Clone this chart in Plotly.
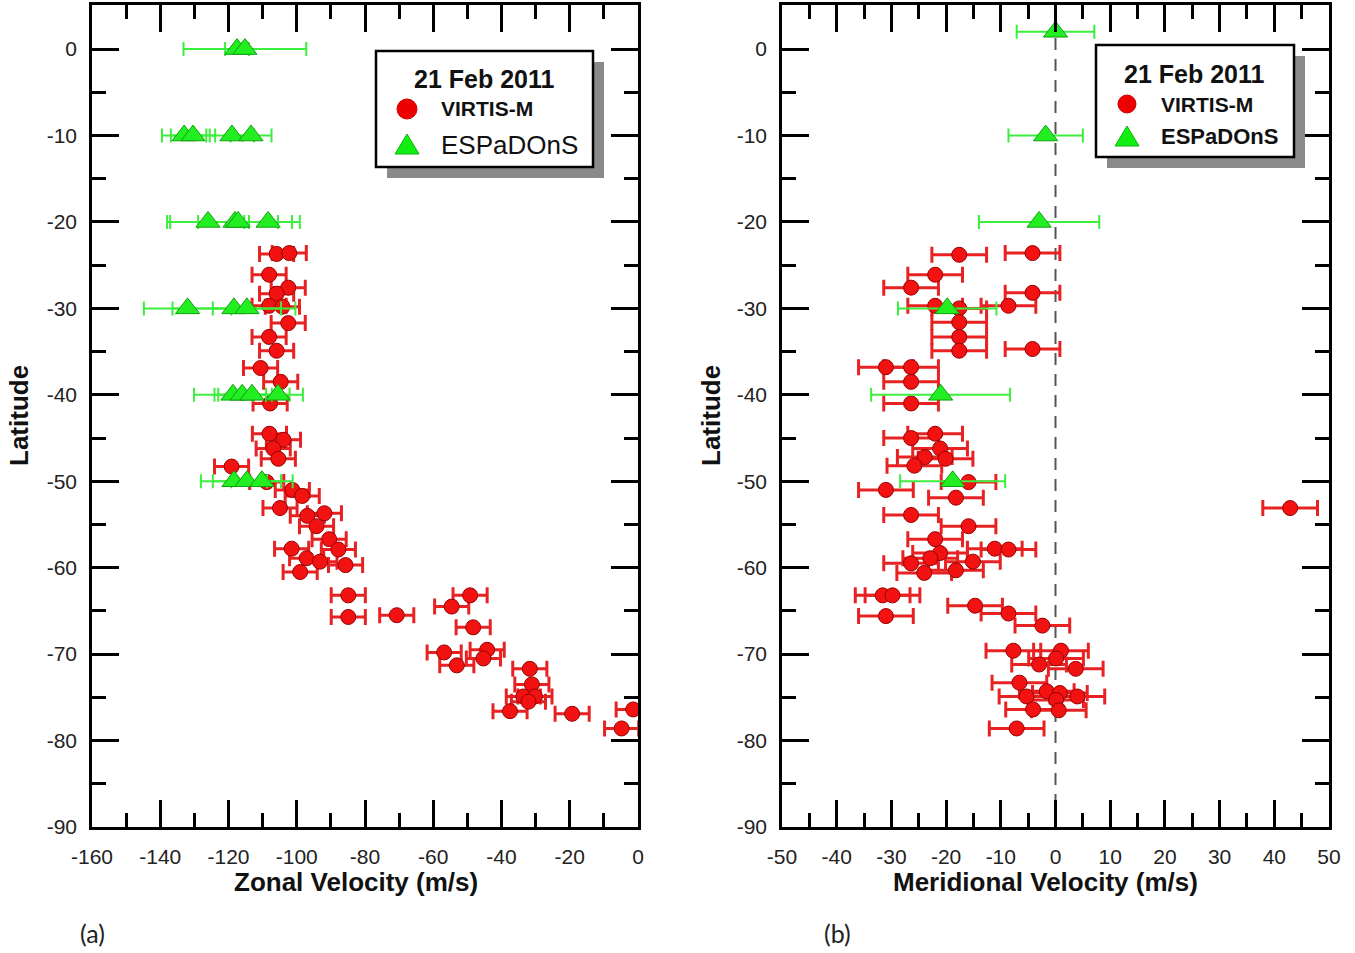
import plotly.graph_objects as go

W, H = 1355, 953


def px(x):
    return x / W


def py(y):
    return 1 - y / H


FONT = "Liberation Sans, Arial, sans-serif"

# ---------------- Panel (a): zonal velocity ----------------
virtis_lat_a = [-23.7, -23.6, -26.1, -27.6, -28.3, -29.7, -29.8, -31.7, -33.3, -34.9,
                -36.9, -38.5, -41.0, -44.5, -45.2, -46.2, -47.4, -48.3, -50.1, -51.0,
                -51.7, -53.1, -54.0, -53.7, -55.2, -56.7, -57.8, -57.9, -58.9, -59.3,
                -59.7, -60.5, -63.2, -65.7, -65.5, -63.2, -64.5, -66.9, -69.8, -69.5,
                -70.5, -71.3, -71.7, -73.5, -74.9, -74.9, -75.5, -76.6, -76.9, -76.4,
                -78.6]
virtis_zonal = [-105.9, -102.2, -108.1, -102.5, -105.9, -108.1, -104.2, -102.5, -108.1, -105.9,
                -110.6, -104.7, -107.8, -108.0, -103.9, -106.9, -105.4, -119.1, -108.8, -101.3,
                -98.4, -104.9, -96.9, -91.9, -94.2, -90.5, -101.5, -87.8, -97.1, -93.2,
                -85.7, -99.0, -84.9, -84.9, -70.7, -49.2, -54.6, -48.3, -56.8, -44.2,
                -45.3, -53.1, -31.7, -31.1, -33.6, -30.2, -32.1, -37.5, -19.3, -1.4,
                -4.8]
virtis_zonal_err = [5.0] * len(virtis_zonal)

espa_lat_a = [0, 0, -10, -10, -10, -10, -20, -20, -20, -20,
              -30, -30, -30, -40, -40, -40, -40, -50, -50, -50]
espa_zonal = [-117.5, -115.2, -133.0, -130.4, -119.0, -113.4, -126.0, -118.1, -117.2, -108.4,
              -132.0, -118.4, -114.6, -118.7, -116.0, -113.1, -105.5, -118.4, -114.6, -110.2]
espa_zonal_err = [3.5, 18.0, 6.5, 6.5, 6.5, 6.0, 12.0, 19.0, 11.7, 7.0,
                  12.8, 18.0, 10.0, 11.4, 7.0, 11.0, 7.3, 9.7, 10.0, 9.0]

# ---------------- Panel (b): meridional velocity ----------------
virtis_lat_b = [-23.8, -23.6, -26.1, -27.6, -28.2, -29.7, -30.0, -29.7, -31.6, -33.3,
                -34.9, -34.7, -36.8, -36.8, -38.5, -41.0, -45.0, -44.5, -46.2, -47.2,
                -47.4, -48.2, -51.0, -50.1, -51.9, -53.9, -55.2, -56.7, -57.8, -57.9,
                -58.3, -58.9, -59.5, -59.3, -60.6, -60.3, -63.2, -63.2, -65.6, -64.4,
                -65.3, -66.7, -69.6, -69.6, -70.5, -71.2, -71.7, -73.3, -74.9, -74.3,
                -74.5, -74.9, -75.3, -76.4, -76.5, -78.6, -53.1]
virtis_merid = [-17.6, -4.2, -22.0, -26.4, -4.2, -22.0, -17.6, -8.6, -17.6, -17.6,
                -17.6, -4.2, -31.0, -26.4, -26.4, -26.4, -26.4, -22.0, -21.1, -23.9,
                -20.1, -25.8, -31.0, -15.9, -18.2, -26.4, -15.9, -22.0, -11.1, -8.6,
                -21.1, -22.9, -26.4, -15.1, -24.0, -18.2, -31.6, -29.8, -31.0, -14.7,
                -8.6, -2.4, -7.7, 1.0, 0.1, -3.0, 3.7, -6.6, -5.3, -1.6,
                0.8, 4.0, 0.1, -4.1, 0.6, -7.1, 42.9]
virtis_merid_err = [5.0] * len(virtis_merid)

espa_lat_b = [2, -10, -20, -30, -40, -50]
espa_merid = [0.0, -1.8, -3.0, -19.8, -21.0, -18.8]
espa_merid_err = [7.1, 6.8, 11.0, 9.0, 12.7, 9.6]

# tick labels
zonal_ticks = list(range(-160, 1, 20))
merid_ticks = list(range(-50, 51, 10))
lat_ticks = list(range(-90, 1, 10))

RED = "#f21212"
RED_EDGE = "#990000"
RED_BAR = "#e82222"
GREEN = "#22ee22"
GREEN_EDGE = "#10a010"
GREEN_BAR = "#3cee3c"

fig = go.Figure()


def add_panel(xa, ya, vlat, vvel, verr, glat, gvel, gerr):
    fig.add_trace(go.Scatter(
        x=vvel, y=vlat, mode="markers", xaxis=xa, yaxis=ya, showlegend=False,
        cliponaxis=True,
        marker=dict(symbol="circle", size=15, color=RED, line=dict(color=RED_EDGE, width=1)),
        error_x=dict(type="data", array=verr, color=RED_BAR, thickness=3, width=8),
    ))
    fig.add_trace(go.Scatter(
        x=gvel, y=glat, mode="markers", xaxis=xa, yaxis=ya, showlegend=False,
        cliponaxis=True,
        marker=dict(symbol="triangle-up", size=21, color=GREEN, line=dict(color=GREEN_EDGE, width=1)),
        error_x=dict(type="data", array=gerr, color=GREEN_BAR, thickness=2, width=7),
    ))


add_panel("x", "y", virtis_lat_a, virtis_zonal, virtis_zonal_err, espa_lat_a, espa_zonal, espa_zonal_err)
add_panel("x2", "y2", virtis_lat_b, virtis_merid, virtis_merid_err, espa_lat_b, espa_merid, espa_merid_err)

common = dict(
    showline=True, linecolor="black", linewidth=2.5, mirror="ticks",
    ticks="inside", ticklen=27, tickwidth=2.5, tickcolor="black",
    showgrid=False, zeroline=False, automargin=False,
    tickfont=dict(family=FONT, size=21, color="#222"),
)
minor_y = dict(dtick=5, tick0=0, ticks="inside", ticklen=14, tickwidth=2.5, tickcolor="black")

ydom = [py(827), py(5)]
fig.update_layout(
    width=W, height=H, autosize=False,
    margin=dict(l=0, r=0, t=0, b=0, pad=0, autoexpand=False),
    paper_bgcolor="white", plot_bgcolor="white",
    showlegend=False,
    xaxis=dict(domain=[px(92), px(638)], range=[-160, 0], anchor="y",
               tickmode="array", tickvals=zonal_ticks, ticktext=[str(v) for v in zonal_ticks],
               minor=dict(dtick=10, tick0=0, ticks="inside", ticklen=14, tickwidth=2.5, tickcolor="black"),
               ticklabelstandoff=9, **common),
    yaxis=dict(domain=ydom, range=[-90, 5.1], anchor="x",
               tickmode="array", tickvals=lat_ticks, ticktext=[str(v) for v in lat_ticks],
               minor=minor_y, ticklabelstandoff=8, **common),
    xaxis2=dict(domain=[px(782), px(1329)], range=[-50, 50], anchor="y2",
                tickmode="array", tickvals=merid_ticks, ticktext=[str(v) for v in merid_ticks],
                minor=dict(dtick=5, tick0=0, ticks="inside", ticklen=14, tickwidth=2.5, tickcolor="black"),
                ticklabelstandoff=9, **common),
    yaxis2=dict(domain=ydom, range=[-90, 5.1], anchor="x2",
                tickmode="array", tickvals=lat_ticks, ticktext=[str(v) for v in lat_ticks],
                minor=minor_y, ticklabelstandoff=8, **common),
)

shapes = []
# dashed zero line in panel (b)
shapes.append(dict(type="line", xref="x2", yref="y2 domain", x0=0, x1=0, y0=0, y1=1,
                   line=dict(color="#555555", width=2, dash="12px,9px"), layer="below"))


def legend_box(x0, y0, x1, y1, title_cx, title_y, cx, y_circ, y_tri, text_x,
               circ_r, v_size, e_size, e_bold, title_size):
    shapes.append(dict(type="rect", xref="paper", yref="paper",
                       x0=px(x0 + 11), x1=px(x1 + 11), y0=py(y1 + 11), y1=py(y0 + 11),
                       fillcolor="#8a8a8a", line=dict(width=0), layer="above"))
    shapes.append(dict(type="rect", xref="paper", yref="paper",
                       x0=px(x0), x1=px(x1), y0=py(y1), y1=py(y0),
                       fillcolor="white", line=dict(color="black", width=2.5), layer="above"))
    shapes.append(dict(type="circle", xref="paper", yref="paper",
                       xsizemode="pixel", ysizemode="pixel",
                       xanchor=px(cx), yanchor=py(y_circ),
                       x0=-circ_r, x1=circ_r, y0=-circ_r, y1=circ_r,
                       fillcolor="#ee0000", line=dict(color="#cc0000", width=1), layer="above"))
    shapes.append(dict(type="path", xref="paper", yref="paper",
                       xsizemode="pixel", ysizemode="pixel",
                       xanchor=px(cx), yanchor=py(y_tri),
                       path="M-12,-9 L12,-9 L0,11 Z",
                       fillcolor="#11ee11", line=dict(color="#10b010", width=1), layer="above"))
    anns = [
        dict(text="<b>21 Feb 2011</b>", x=px(title_cx), y=py(title_y), xref="paper", yref="paper",
             xanchor="center", yanchor="middle", showarrow=False,
             font=dict(family=FONT, size=title_size, color="#111")),
        dict(text="<b>VIRTIS-M</b>", x=px(text_x), y=py(y_circ), xref="paper", yref="paper",
             xanchor="left", yanchor="middle", showarrow=False,
             font=dict(family=FONT, size=v_size, color="#111")),
        dict(text=("<b>ESPaDOnS</b>" if e_bold else "ESPaDOnS"), x=px(text_x), y=py(y_tri),
             xref="paper", yref="paper", xanchor="left", yanchor="middle", showarrow=False,
             font=dict(family=FONT, size=e_size, color="#111")),
    ]
    return anns


annotations = []
annotations += legend_box(376, 51, 593, 167, 484, 79, 407, 109, 145, 439, 10, 21, 26, False, 25)
annotations += legend_box(1096, 45, 1294, 157, 1194, 74, 1127, 104, 137, 1159, 9, 21, 22, True, 25)

# axis titles and panel labels
annotations += [
    dict(text="<b>Zonal Velocity (m/s)</b>", x=px(356), y=py(882), xref="paper", yref="paper",
         xanchor="center", yanchor="middle", showarrow=False, font=dict(family=FONT, size=26, color="#111")),
    dict(text="<b>Meridional Velocity (m/s)</b>", x=px(1045), y=py(882), xref="paper", yref="paper",
         xanchor="center", yanchor="middle", showarrow=False, font=dict(family=FONT, size=26, color="#111")),
    dict(text="<b>Latitude</b>", x=px(19), y=py(416), xref="paper", yref="paper", textangle=-90,
         xanchor="center", yanchor="middle", showarrow=False, font=dict(family=FONT, size=26, color="#111")),
    dict(text="<b>Latitude</b>", x=px(711), y=py(416), xref="paper", yref="paper", textangle=-90,
         xanchor="center", yanchor="middle", showarrow=False, font=dict(family=FONT, size=26, color="#111")),
    dict(text="(a)", x=px(92), y=py(933), xref="paper", yref="paper",
         xanchor="center", yanchor="middle", showarrow=False, font=dict(family="Lato, Open Sans, sans-serif", size=25, color="#222")),
    dict(text="(b)", x=px(837), y=py(933), xref="paper", yref="paper",
         xanchor="center", yanchor="middle", showarrow=False, font=dict(family="Lato, Open Sans, sans-serif", size=25, color="#222")),
]

fig.update_layout(shapes=shapes, annotations=annotations)
fig.write_html(
    "out.html",
    config={"responsive": False, "displayModeBar": False},
    post_script="document.body.style.margin='0px';document.body.style.overflow='hidden';",
)
